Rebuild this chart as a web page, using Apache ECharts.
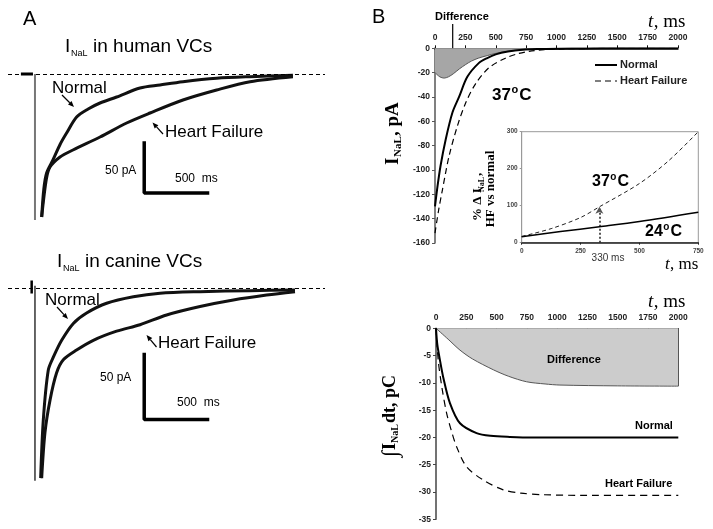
<!DOCTYPE html>
<html><head><meta charset="utf-8">
<script src="https://cdn.jsdelivr.net/npm/echarts@6/dist/echarts.min.js"></script>
<style>html,body{margin:0;padding:0;background:#fff}#c{width:713px;height:529px}</style>
</head><body><div id="c"></div>
<script>
// ---------- Panel A: recorded traces (t in ms, I in pA) ----------
const humanNormal = [[53,-143],[70,-115],[92,-99],[142,-86],[200,-70],[250,-59],[329,-43],[420,-35],[514,-29],[645,-23],[830,-14],[988,-11],[1169,-7.7],[1435,-4.3],[1699,-2.7],[2038,-1.3]];
const humanHF = [[53,-143],[90,-105],[119,-93],[198,-83],[300,-76],[514,-63],[724,-49],[909,-39],[1169,-26],[1435,-16],[1699,-7.7],[2038,-2.7]];
const humanPre = [[-111,0],[-16,0]];
const humanTransient = [[0,0],[0,-146]];
const humanScaleBar = [[863,-69],[863,-119],[1363,-119]];

const canineNormal = [[45,-146],[66,-101],[105,-63],[145,-53],[211,-40],[303,-27],[408,-19],[566,-11.5],[777,-6.5],[988,-3.8],[1304,-2.6],[1699,-1.8],[2054,-1.3]];
const canineHF = [[53,-146],[79,-111],[119,-86],[171,-65],[224,-55],[329,-47.5],[461,-40],[645,-33],[830,-28],[1040,-20.5],[1304,-14],[1567,-9],[1830,-5.2],[2054,-2.6]];
const caninePre = [[-26,6],[-26,-4]];
const canineTransient = [[0,2],[0,-148]];
const canineScaleBar = [[863,-51],[863,-101],[1363,-101]];

// ---------- Panel B top: model I_NaL (pA) ----------
const modelNormal = [[0,-130],[20,-114],[45,-97],[88,-75],[143,-53],[198,-40],[266,-23.5],[362,-12],[430,-8],[500,-5],[600,-2.7],[720,-1.2],[850,-0.6],[1000,-0.3],[1250,-0.1],[1500,0],[2000,0]];
const modelHF = [[0,-152],[30,-133],[60,-117],[115,-89],[184,-64],[252,-45],[335,-29],[444,-16],[582,-8],[680,-4.5],[774,-2.5],[900,-1.2],[1050,-0.5],[1250,-0.2],[1500,0],[2000,0]];
const modelDiff = [[0,-20],[40,-23.5],[75,-24.5],[110,-23.5],[150,-21],[200,-17],[250,-13.5],[300,-10.5],[360,-8],[430,-6],[500,-4.2],[600,-2.5],[720,-1.2],[850,-0.5],[1000,-0.2],[1250,0],[2000,0]];

// ---------- Inset: % change HF vs normal ----------
const inset37 = [[0,17],[125,38],[250,68],[330,97],[500,160],[625,222],[750,300]];
const inset24 = [[0,16],[165,30],[330,43],[500,57],[750,82]];
const markTime = 330;
const markValue = 97;

// ---------- Panel B bottom: integral (pC) ----------
const intNormal = [[0,0],[11,-3],[30,-5.5],[60,-9],[115,-13.7],[198,-17.4],[335,-19.2],[450,-19.7],[610,-19.9],[800,-20],[2000,-20]];
const intHF = [[0,0],[19,-6],[50,-11],[88,-15.6],[130,-19],[170,-21.7],[253,-25.4],[390,-27.8],[555,-29.6],[700,-30.2],[886,-30.5],[1200,-30.6],[2000,-30.6]];
const intDiff = [[0,0],[100,-2],[198,-4],[300,-5.6],[473,-7.6],[600,-8.8],[748,-9.8],[900,-10.2],[1023,-10.4],[1500,-10.55],[2000,-10.6]];

// ---------- chart ----------
const chart = echarts.init(document.getElementById('c'), null, {renderer:'canvas'});
const SANS = 'Liberation Sans, Arial, sans-serif';
const SERIF = 'Liberation Serif, Times New Roman, serif';
const hidden = (g, min, max) => ({gridIndex:g, type:'value', min, max, show:false});
const plain = v => String(v);
const tickLbl = {fontSize:8.5, fontWeight:'bold', color:'#222', fontFamily:SANS, formatter:plain};

function line(name, data, xi, yi, o) {
  o = o || {};
  return Object.assign({
    name, type:'line', data, xAxisIndex:xi, yAxisIndex:yi,
    symbol:'none', showSymbol:false, smooth:o.smooth === undefined ? 0.3 : o.smooth,
    lineStyle:{color:o.color||'#000', width:o.width||1.5, type:o.type||'solid', cap:o.cap||'butt'},
    itemStyle:{color:o.color||'#000'}, silent:true, animation:false, z:o.z||3
  }, o.extra||{});
}

function txt(x, y, s, font, extra) {
  return {type:'text', x, y, z:100, silent:true,
    style:Object.assign({text:s, font, fill:'#000', textAlign:'left', textVerticalAlign:'middle'}, extra||{})};
}
function seg(x1, y1, x2, y2, w, dash) {
  return {type:'line', z:100, silent:true, shape:{x1, y1, x2, y2}, style:{stroke:'#000', lineWidth:w, lineDash:dash||null}};
}
function arrow(x1, y1, x2, y2, w, hl, hw, color) {
  color = color || '#000';
  const a = Math.atan2(y2-y1, x2-x1);
  const bx = x2 - hl*Math.cos(a), by = y2 - hl*Math.sin(a);
  const px = -Math.sin(a)*hw/2, py = Math.cos(a)*hw/2;
  return {type:'group', z:100, silent:true, children:[
    {type:'line', shape:{x1, y1, x2:bx, y2:by}, style:{stroke:color, lineWidth:w}},
    {type:'polygon', shape:{points:[[x2,y2],[bx+px,by+py],[bx-px,by-py]]}, style:{fill:color}}
  ]};
}
function degLabel(x, y, size, num) {
  const f = 'bold ' + size + 'px ' + SANS;
  const w1 = num.length*0.556*size;
  const fs = Math.round(size*0.62);
  const w2 = 0.611*fs + 1;
  return {type:'group', z:100, silent:true, children:[
    txt(x, y, num, f),
    txt(x + w1 + 0.5, y - size*0.28, 'o', 'bold ' + fs + 'px ' + SANS),
    txt(x + w1 + w2 + 0.5, y, 'C', f)
  ]};
}
function tms(x, y, size) {
  return {type:'group', z:100, silent:true, children:[
    txt(x, y, 't', 'italic ' + size + 'px ' + SERIF),
    txt(x + 0.3*size, y, ', ms', size + 'px ' + SERIF)
  ]};
}

const option = {
  animation:false,
  backgroundColor:'#fff',
  grid:[
    {left:8, top:60, width:317, height:165},
    {left:8, top:275.3, width:317, height:208},
    {left:435, top:48.3, width:243, height:194.5},
    {left:521.7, top:131.7, width:176.6, height:111, show:true, backgroundColor:'#fff', borderColor:'#999', borderWidth:1, z:5},
    {left:436, top:328.3, width:242.3, height:191}
  ],
  xAxis:[
    hidden(0, -213, 2291),
    hidden(1, -213, 2291),
    {gridIndex:2, type:'value', position:'top', min:0, max:2000, interval:250,
      axisLine:{show:true, onZero:false, lineStyle:{color:'#111', width:1.5}},
      axisTick:{show:true, length:3, lineStyle:{color:'#111'}},
      axisLabel:Object.assign({margin:6}, tickLbl), splitLine:{show:false}},
    {gridIndex:3, type:'value', min:0, max:750, interval:250, z:6,
      axisLine:{show:true, onZero:false, lineStyle:{color:'#222', width:1.5}},
      axisTick:{show:true, length:2, lineStyle:{color:'#222'}},
      axisLabel:{margin:5, fontSize:6.5, fontWeight:'bold', color:'#444', fontFamily:SANS, formatter:plain}, splitLine:{show:false}},
    {gridIndex:4, type:'value', position:'top', min:0, max:2000, interval:250,
      axisLine:{show:true, onZero:false, lineStyle:{color:'#111', width:1.5}},
      axisTick:{show:true, length:3, inside:true, lineStyle:{color:'#111'}},
      axisLabel:Object.assign({margin:6}, tickLbl), splitLine:{show:false}}
  ],
  yAxis:[
    hidden(0, -151, 14),
    hidden(1, -150, 10),
    {gridIndex:2, type:'value', min:-160, max:0, interval:20,
      axisLine:{show:true, onZero:false, lineStyle:{color:'#808080', width:2}},
      axisTick:{show:true, length:3, lineStyle:{color:'#555'}},
      axisLabel:Object.assign({margin:5}, tickLbl), splitLine:{show:false}},
    {gridIndex:3, type:'value', min:0, max:300, interval:100, z:6,
      axisLine:{show:true, onZero:false, lineStyle:{color:'#999', width:1}},
      axisTick:{show:true, length:2, lineStyle:{color:'#999'}},
      axisLabel:{margin:4, fontSize:6.5, fontWeight:'bold', color:'#444', fontFamily:SANS, formatter:plain}, splitLine:{show:false}},
    {gridIndex:4, type:'value', min:-35, max:0, interval:5,
      axisLine:{show:true, onZero:false, lineStyle:{color:'#444', width:1.5}},
      axisTick:{show:true, length:3, lineStyle:{color:'#444'}},
      axisLabel:Object.assign({margin:5}, tickLbl), splitLine:{show:false}}
  ],
  series:[
    // Panel A human
    line('hPre', humanPre, 0, 0, {width:3, smooth:false, extra:{markLine:{silent:true, symbol:'none', animation:false,
      label:{show:false}, lineStyle:{type:[4,3], color:'#000', width:1}, data:[{yAxis:0}]}}}),
    line('hTr', humanTransient, 0, 0, {width:2, color:'#777', smooth:false}),
    line('hN', humanNormal, 0, 0, {width:3, color:'#111'}),
    line('hHF', humanHF, 0, 0, {width:3, color:'#111'}),
    line('hBar', humanScaleBar, 0, 0, {width:3.5, smooth:false, cap:'square'}),
    // Panel A canine
    line('cPre', caninePre, 1, 1, {width:2.5, smooth:false, extra:{markLine:{silent:true, symbol:'none', animation:false,
      label:{show:false}, lineStyle:{type:[4,3], color:'#000', width:1}, data:[{yAxis:0}]}}}),
    line('cTr', canineTransient, 1, 1, {width:1.5, color:'#333', smooth:false}),
    line('cN', canineNormal, 1, 1, {width:3, color:'#111'}),
    line('cHF', canineHF, 1, 1, {width:3, color:'#111'}),
    line('cBar', canineScaleBar, 1, 1, {width:3.5, smooth:false, cap:'square'}),
    // Panel B top
    line('Difference', modelDiff, 2, 2, {width:1, color:'#555', extra:{areaStyle:{color:'#a6a6a6', opacity:1}}}),
    line('Normal', modelNormal, 2, 2, {width:2}),
    line('Heart Failure', modelHF, 2, 2, {width:1.2, type:[6,4]}),
    // Inset
    line('i37', inset37, 3, 3, {width:1, type:[4,3], color:'#222', z:7, extra:{markLine:{silent:true, animation:false,
      symbol:['none','arrow'], symbolSize:[6,7], label:{show:false},
      lineStyle:{type:'dotted', color:'#555', width:2},
      data:[[{coord:[markTime,0]},{coord:[markTime,markValue]}]]}}}),
    line('i24', inset24, 3, 3, {width:1.5, z:7}),
    // Panel B bottom
    line('iDiff', intDiff, 4, 4, {width:1, color:'#555', extra:{areaStyle:{color:'#cccccc', opacity:1},
      markLine:{silent:true, animation:false, symbol:'none', label:{show:false}, lineStyle:{color:'#555', width:1, type:'solid'},
        data:[[{coord:[intDiff[intDiff.length-1][0],0]},{coord:intDiff[intDiff.length-1]}]]}}}),
    line('iN', intNormal, 4, 4, {width:2}),
    line('iHF', intHF, 4, 4, {width:1.2, type:[7,5]})
  ],
  graphic:[
    // Panel A
    txt(23, 19, 'A', '20px ' + SANS),
    txt(65, 47, 'I', '19px ' + SANS), txt(71, 54, 'NaL', '9px ' + SANS), txt(93, 47, 'in human VCs', '19px ' + SANS),
    txt(57, 262, 'I', '19px ' + SANS), txt(63, 269, 'NaL', '9px ' + SANS), txt(85, 262, 'in canine VCs', '19px ' + SANS),
    txt(52, 88, 'Normal', '17px ' + SANS), txt(165, 132, 'Heart Failure', '17px ' + SANS),
    txt(105, 171, '50 pA', '12px ' + SANS), txt(175, 179, '500  ms', '12px ' + SANS),
    txt(45, 300, 'Normal', '17px ' + SANS), txt(158, 343, 'Heart Failure', '17px ' + SANS),
    txt(100, 378, '50 pA', '12px ' + SANS), txt(177, 403, '500  ms', '12px ' + SANS),
    arrow(62, 95, 74, 107, 1.2, 6, 5), arrow(163, 134, 152.5, 122.5, 1.2, 6, 5),
    arrow(57, 307, 68, 319, 1.2, 6, 5), arrow(156.5, 347, 146.5, 335, 1.2, 6, 5),
    // Panel B
    txt(372, 17, 'B', '20px ' + SANS),
    txt(435, 17, 'Difference', 'bold 11px ' + SANS),
    arrow(452.7, 24, 452.7, 62, 1.2, 7, 6),
    tms(648, 22, 19),
    // legend
    seg(595, 65, 617, 65, 2), txt(620, 65, 'Normal', 'bold 11px ' + SANS, {fill:'#222'}),
    seg(595, 81, 617, 81, 1.2, [6,4]), txt(620, 81, 'Heart Failure', 'bold 11px ' + SANS, {fill:'#222'}),
    degLabel(492, 95, 17, '37'),
    {type:'group', x:393, y:134, rotation:Math.PI/2, z:100, silent:true, children:[
      txt(-31, 0, 'I', 'bold 19px ' + SERIF), txt(-23, 5, 'NaL', 'bold 11px ' + SERIF), txt(-2, 0, ', pA', 'bold 19px ' + SERIF)
    ]},
    {type:'group', x:484, y:189, rotation:Math.PI/2, z:100, silent:true, children:[
      txt(-32, -6, '% \u0394 I', 'bold 13px ' + SERIF), txt(-3, -2, 'NaL', 'bold 8px ' + SERIF), txt(13, -6, ',', 'bold 13px ' + SERIF),
      txt(0, 7, 'HF vs normal', 'bold 13px ' + SERIF, {textAlign:'center'})
    ]},
    degLabel(592, 182, 16, '37'),
    degLabel(645, 232, 16, '24'),
    txt(608, 258, '330 ms', '10px ' + SANS, {textAlign:'center', fill:'#333'}),
    tms(665, 265, 17),
    tms(648, 302, 19),
    {type:'group', x:390, y:417, rotation:Math.PI/2, z:100, silent:true, children:[
      txt(-40, 1, '\u222B', 'bold 22px ' + SERIF), txt(-33, 0, 'I', 'bold 18px ' + SERIF), txt(-26, 5, 'NaL', 'bold 10px ' + SERIF),
      txt(-6, 0, 'dt, pC', 'bold 18px ' + SERIF)
    ]},
    txt(547, 360, 'Difference', 'bold 11px ' + SANS),
    txt(635, 426, 'Normal', 'bold 11px ' + SANS),
    txt(605, 484, 'Heart Failure', 'bold 11px ' + SANS)
  ]
};
chart.setOption(option);
</script></body></html>
